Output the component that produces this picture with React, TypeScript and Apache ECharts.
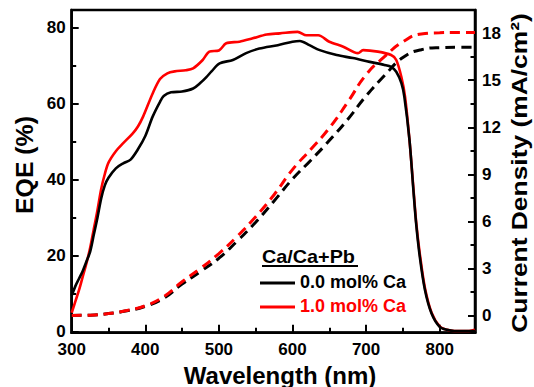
import { useEffect, useRef } from "react";
import * as echarts from "echarts";

// EQE curves (wavelength nm -> EQE %)
const wlEqeBlack = [300, 305, 310, 315, 320, 325, 330, 335, 340, 345, 350, 360, 370, 380, 390, 400, 410, 420, 425, 435, 450, 465, 475, 483, 490, 501, 519, 537, 555, 580, 600, 610, 623, 637, 660, 682, 705, 725, 734, 741, 748, 752, 759, 764, 768, 773, 780, 789, 800, 810, 820, 848];
const eqeBlack = [9.5, 12, 14, 16, 18.5, 21, 25.5, 30, 35, 38.5, 40.5, 43, 44.3, 45.3, 48, 51.5, 56.6, 60.5, 62, 63, 63.2, 64, 65.5, 67, 68.5, 70.6, 71.5, 73.3, 74.5, 75.4, 76.3, 76.5, 75.4, 74.1, 72.8, 72, 71, 70.2, 69.7, 68.4, 65.4, 61.8, 50.4, 38, 28.5, 19.7, 11, 4.8, 1.3, 0.5, 0.2, 0.2];

const wlEqeRed = [300, 305, 310, 315, 320, 325, 330, 335, 340, 345, 350, 360, 370, 383, 390, 397, 410, 420, 430, 440, 455, 465, 478, 487, 500, 510, 528, 546, 565, 583, 607, 619, 635, 650, 669, 689, 696, 716, 734, 741, 748, 753, 759, 764, 768, 773, 780, 789, 800, 810, 820, 840, 848];
const eqeRed = [5, 8, 11, 14.5, 18, 22, 27, 32, 37.5, 41.5, 44.5, 47.5, 49.6, 52.2, 54, 56.6, 62.7, 66.5, 68, 68.5, 68.8, 69.3, 71.5, 73.7, 74, 75.9, 76.3, 77.2, 78.2, 78.5, 78.9, 78, 78, 76.3, 75, 73.3, 74.1, 73.7, 72.8, 71.5, 67, 61.8, 50.4, 38.5, 29, 20.5, 11.5, 5, 1.4, 0.5, 0.2, 0.2, 0.5];

// Integrated current density (wavelength nm -> mA/cm2)
const wlJ = [300, 325, 350, 375, 400, 425, 450, 475, 500, 525, 550, 575, 600, 625, 650, 675, 700, 725, 750, 775, 800, 825, 848];
const jBlack = [0, 0.02, 0.12, 0.3, 0.58, 1.1, 2.0, 2.8, 3.65, 4.75, 5.95, 7.3, 8.7, 9.9, 11.15, 12.5, 14.0, 15.3, 16.45, 16.95, 17.08, 17.1, 17.1];
const jRed = [0, 0.02, 0.12, 0.32, 0.62, 1.2, 2.15, 3.0, 3.95, 5.05, 6.3, 7.7, 9.3, 10.6, 11.95, 13.6, 15.35, 16.5, 17.45, 17.95, 18.03, 18.05, 18.05];

const xTickLabels = [300, 400, 500, 600, 700, 800];
const xMinorTicks = [350, 450, 550, 650, 750];
const eqeTickLabels = [0, 20, 40, 60, 80];
const eqeMinorTicks = [10, 30, 50, 70];
const jTickLabels = [0, 3, 6, 9, 12, 15, 18];
const jMinorTicks = [1.5, 4.5, 7.5, 10.5, 13.5, 16.5];

const legendTitle = "Ca/Ca+Pb";
const seriesNames = ["0.0 mol% Ca", "1.0 mol% Ca"];
const seriesColors = ["#000000", "#ff0000"];

const FONT = "'Liberation Sans', Arial, Helvetica, sans-serif";

function pairs(xs: number[], ys: number[]) {
  return xs.map((x, i) => [x, ys[i]]);
}

export default function App() {
  const ref = useRef<HTMLDivElement>(null);
  useEffect(() => {
    document.body.style.margin = "0";
    if (!ref.current) return;
    const chart = echarts.init(ref.current, undefined, { renderer: "svg" });

    const labelStyle = {
      fontFamily: FONT,
      fontWeight: "bold" as const,
      fontSize: 17,
      color: "#000",
    };
    const tickLine = { color: "#000", width: 2 };

    const option: any = {
      animation: false,
      backgroundColor: "#fff",
      grid: {
        left: 71.7,
        right: 59,
        top: 10,
        bottom: 54.3,
        show: true,
        borderColor: "#000",
        borderWidth: 2.5,
        backgroundColor: "transparent",
      },
      xAxis: [
        {
          type: "value",
          min: 300,
          max: 848,
          position: "bottom",
          axisLine: { show: true, onZero: false, lineStyle: { color: "#000", width: 2.5 } },
          axisTick: { show: true, inside: true, length: 8, customValues: xTickLabels, lineStyle: tickLine },
          axisLabel: { ...labelStyle, margin: 8, customValues: xTickLabels },
          splitLine: { show: false },
        },
        {
          type: "value",
          min: 300,
          max: 848,
          position: "bottom",
          axisLine: { show: false, onZero: false },
          axisTick: { show: true, inside: true, length: 5, customValues: xMinorTicks, lineStyle: tickLine },
          axisLabel: { show: false },
          splitLine: { show: false },
        },
      ],
      yAxis: [
        {
          type: "value",
          min: -0.25,
          max: 84.65,
          position: "left",
          axisLine: { show: true, onZero: false, lineStyle: { color: "#000", width: 2.5 } },
          axisTick: { show: true, inside: true, length: 7, customValues: eqeTickLabels, lineStyle: tickLine },
          axisLabel: { ...labelStyle, margin: 6, customValues: eqeTickLabels },
          splitLine: { show: false },
        },
        {
          type: "value",
          min: -1.1,
          max: 19.48,
          position: "right",
          axisLine: { show: true, onZero: false, lineStyle: { color: "#000", width: 2.5 } },
          axisTick: { show: true, inside: true, length: 7, customValues: jTickLabels, lineStyle: tickLine },
          axisLabel: { ...labelStyle, margin: 7, customValues: jTickLabels },
          splitLine: { show: false },
        },
        {
          type: "value",
          min: -0.25,
          max: 84.65,
          position: "left",
          axisLine: { show: false, onZero: false },
          axisTick: { show: true, inside: true, length: 4.5, customValues: eqeMinorTicks, lineStyle: tickLine },
          axisLabel: { show: false },
          splitLine: { show: false },
        },
        {
          type: "value",
          min: -1.1,
          max: 19.48,
          position: "right",
          axisLine: { show: false, onZero: false },
          axisTick: { show: true, inside: true, length: 4.5, customValues: jMinorTicks, lineStyle: tickLine },
          axisLabel: { show: false },
          splitLine: { show: false },
        },
      ],
      series: [
        {
          name: seriesNames[0] + " EQE",
          type: "line",
          xAxisIndex: 0,
          yAxisIndex: 0,
          data: pairs(wlEqeBlack, eqeBlack),
          showSymbol: false,
          smooth: 0.3,
          lineStyle: { color: seriesColors[0], width: 2.6 },
          z: 3,
        },
        {
          name: seriesNames[1] + " EQE",
          type: "line",
          xAxisIndex: 0,
          yAxisIndex: 0,
          data: pairs(wlEqeRed, eqeRed),
          showSymbol: false,
          smooth: 0.3,
          lineStyle: { color: seriesColors[1], width: 2.6 },
          z: 2,
        },
        {
          name: seriesNames[0] + " Jsc",
          type: "line",
          xAxisIndex: 0,
          yAxisIndex: 1,
          data: pairs(wlJ, jBlack),
          showSymbol: false,
          smooth: true,
          lineStyle: { color: seriesColors[0], width: 3, type: [10, 6] },
          z: 2,
        },
        {
          name: seriesNames[1] + " Jsc",
          type: "line",
          xAxisIndex: 0,
          yAxisIndex: 1,
          data: pairs(wlJ, jRed),
          showSymbol: false,
          smooth: true,
          lineStyle: { color: seriesColors[1], width: 3, type: [10, 6] },
          z: 2,
        },
      ],
      graphic: [
        {
          type: "text",
          x: 280,
          y: 375,
          style: {
            text: "Wavelength (nm)",
            font: `bold 24px ${FONT}`,
            fill: "#000",
            align: "center",
            verticalAlign: "middle",
          },
        },
        {
          type: "text",
          x: 25,
          y: 165,
          rotation: Math.PI / 2,
          scaleX: 1.08,
          style: {
            text: "EQE (%)",
            font: `bold 23px ${FONT}`,
            fill: "#000",
            align: "center",
            verticalAlign: "middle",
          },
        },
        {
          type: "text",
          x: 519,
          y: 173,
          rotation: Math.PI / 2,
          scaleX: 1.2,
          style: {
            text: "Current Density (mA/cm²)",
            font: `bold 22px ${FONT}`,
            fill: "#000",
            align: "center",
            verticalAlign: "middle",
          },
        },
        {
          type: "text",
          x: 262,
          y: 257,
          scaleX: 1.1,
          style: {
            text: legendTitle,
            font: `bold 18px ${FONT}`,
            fill: "#000",
            align: "left",
            verticalAlign: "middle",
          },
        },
        {
          type: "line",
          shape: { x1: 262, y1: 266, x2: 358, y2: 266 },
          style: { stroke: "#000", lineWidth: 2 },
        },
        {
          type: "line",
          shape: { x1: 260, y1: 283, x2: 295, y2: 283 },
          style: { stroke: seriesColors[0], lineWidth: 3 },
        },
        {
          type: "text",
          x: 300,
          y: 282,
          style: {
            text: seriesNames[0],
            font: `bold 18px ${FONT}`,
            fill: seriesColors[0],
            align: "left",
            verticalAlign: "middle",
          },
        },
        {
          type: "line",
          shape: { x1: 260, y1: 307, x2: 295, y2: 307 },
          style: { stroke: seriesColors[1], lineWidth: 3 },
        },
        {
          type: "text",
          x: 300,
          y: 306,
          style: {
            text: seriesNames[1],
            font: `bold 18px ${FONT}`,
            fill: seriesColors[1],
            align: "left",
            verticalAlign: "middle",
          },
        },
      ],
    };

    chart.setOption(option);
    return () => chart.dispose();
  }, []);

  return <div ref={ref} style={{ width: 534, height: 387 }} />;
}
